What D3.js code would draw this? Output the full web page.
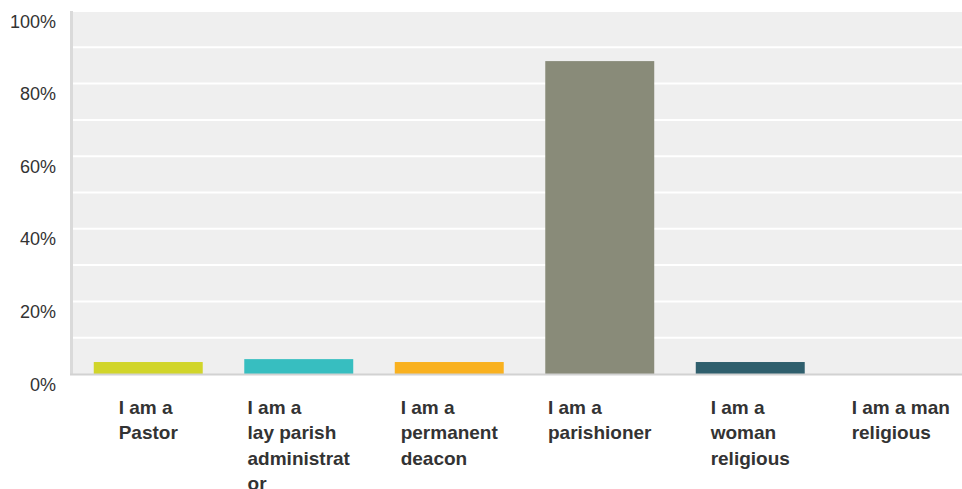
<!DOCTYPE html>
<html>
<head>
  <meta charset="utf-8">
  <title>Survey responses</title>
  <script src="https://d3js.org/d3.v7.min.js"></script>
  <style>
    body { margin: 0; background: #fff; }
    text { font-family: "Liberation Sans", Arial, Helvetica, sans-serif; fill: #333; }
    .ylab { font-size: 18px; }
    .xlab { font-size: 19px; font-weight: bold; }
  </style>
</head>
<body>
  <svg id="chart"></svg>
  <script>
    // categories (as drawn, line by line) and percentages
    var categories = ["Pastor", "Lay parish administrator", "Permanent deacon", "Parishioner", "Woman religious", "Man religious"];
    var labelLines = [
      ["I am a", "Pastor"],
      ["I am a", "lay parish", "administrat", "or"],
      ["I am a", "permanent", "deacon"],
      ["I am a", "parishioner"],
      ["I am a", "woman", "religious"],
      ["I am a man", "religious"]
    ];
    var values = [3.3, 4.1, 3.3, 86.2, 3.3, 0];
    var colors = ["#d1d52a", "#37bec0", "#f9b11f", "#898b79", "#2f5f6d", "#8fa9b5"];
    var yTicks = [0, 20, 40, 60, 80, 100];
    var gridTicks = [10, 20, 30, 40, 50, 60, 70, 80, 90, 100];

    var W = 962, H = 489;
    var svg = d3.select("#chart").attr("width", W).attr("height", H);

    var x = d3.scaleBand()
              .domain(categories)
              .range([73, 976])
              .paddingInner(0.276)
              .paddingOuter(0.138);
    var y = d3.scaleLinear().domain([0, 100]).range([374, 11]);

    // plot background
    svg.append("rect")
       .attr("x", 72).attr("y", y(100))
       .attr("width", W - 72).attr("height", y(0) - y(100))
       .attr("fill", "#efefef");

    // white gridlines
    svg.selectAll(".grid")
       .data(gridTicks)
       .enter().append("line")
       .attr("x1", 72).attr("x2", W)
       .attr("y1", d => y(d)).attr("y2", d => y(d))
       .attr("stroke", "#fff").attr("stroke-width", 2);

    // bars
    svg.selectAll(".bar")
       .data(values)
       .enter().append("rect")
       .attr("class", "bar")
       .attr("x", (d, i) => x(categories[i]))
       .attr("y", d => y(d))
       .attr("width", x.bandwidth())
       .attr("height", d => y(0) - y(d))
       .attr("fill", (d, i) => colors[i]);

    // axis lines
    svg.append("line")
       .attr("x1", 71.5).attr("x2", 71.5).attr("y1", y(100)).attr("y2", y(0) + 1)
       .attr("stroke", "#dadada").attr("stroke-width", 3);
    svg.append("line")
       .attr("x1", 70).attr("x2", W).attr("y1", y(0) + 0.5).attr("y2", y(0) + 0.5)
       .attr("stroke", "#d2d2d2").attr("stroke-width", 2);

    // y labels
    svg.selectAll(".ylab")
       .data(yTicks)
       .enter().append("text")
       .attr("class", "ylab")
       .attr("x", 56)
       .attr("y", d => y(d) + 16.5)
       .attr("text-anchor", "end")
       .text(d => d + "%");

    // x labels: block centred under the band, lines left aligned
    labelLines.forEach(function(lines, i) {
      var g = svg.append("text").attr("class", "xlab");
      lines.forEach(function(l, j) {
        g.append("tspan").attr("y", 414 + j * 25.3).text(l);
      });
      var maxW = 0;
      g.selectAll("tspan").each(function() {
        maxW = Math.max(maxW, this.getComputedTextLength());
      });
      var cx = x(categories[i]) + x.bandwidth() / 2;
      g.selectAll("tspan").attr("x", cx - maxW / 2);
    });
  </script>
</body>
</html>
